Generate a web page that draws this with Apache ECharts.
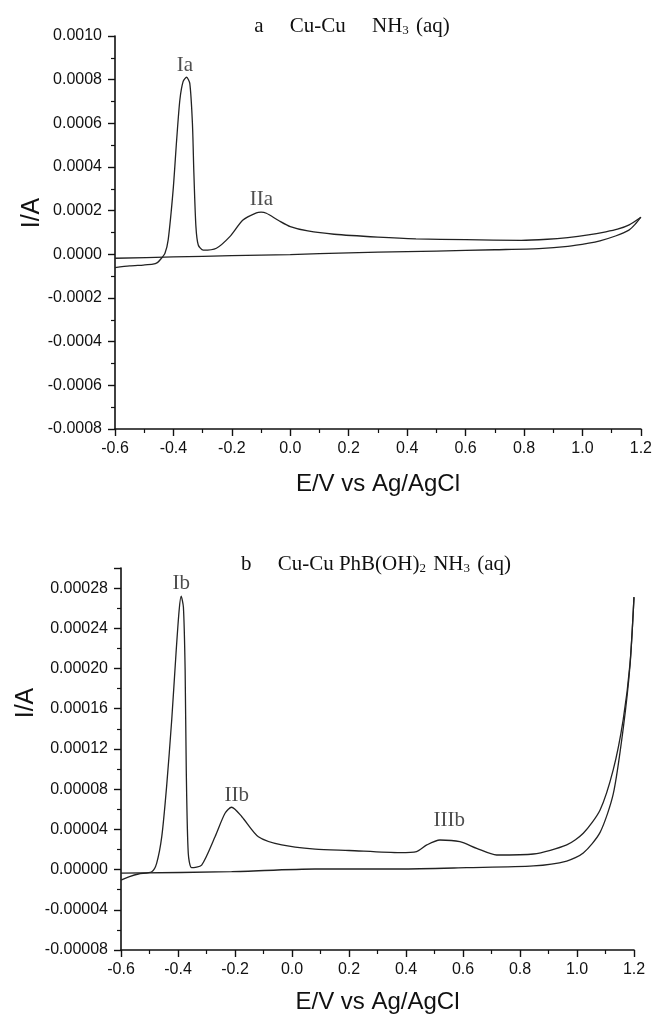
<!DOCTYPE html>
<html>
<head>
<meta charset="utf-8">
<script src="https://cdn.jsdelivr.net/npm/echarts@6/dist/echarts.min.js"></script>
<style>
  html, body { margin: 0; padding: 0; background: #fff; }
  #chart { width: 655px; height: 1015px; }
</style>
</head>
<body>
<div id="chart"></div>
<script>
// panel a : Cu-Cu NH3(aq), [E (V), I (A)]
var aForward = [
  [-0.6, -0.000061], [-0.55, -0.000053], [-0.503, -0.000049], [-0.47, -0.000045],
  [-0.455, -0.000038], [-0.446, -0.000026], [-0.429, 0.000005], [-0.418, 0.000066],
  [-0.401, 0.000295], [-0.389, 0.000524], [-0.378, 0.000707], [-0.367, 0.000791],
  [-0.355, 0.000811], [-0.344, 0.000783], [-0.335, 0.0006], [-0.33, 0.000371],
  [-0.323, 0.000127], [-0.315, 0.000043], [-0.298, 0.000019], [-0.253, 0.000028],
  [-0.207, 0.000081], [-0.162, 0.000157], [-0.116, 0.00019], [-0.1, 0.000193],
  [-0.082, 0.000188], [-0.04, 0.000155], [0.0, 0.000127], [0.06, 0.000107],
  [0.15, 0.000092], [0.3, 0.000079], [0.43, 0.000071], [0.6, 0.000067],
  [0.79, 0.000064], [0.88, 0.000069], [0.95, 0.000077], [1.02, 0.000089],
  [1.08, 0.000103], [1.12, 0.000115], [1.16, 0.000135], [1.2, 0.00017]
];
var aReverse = [
  [1.2, 0.00017], [1.18, 0.000137], [1.159, 0.000111], [1.113, 0.000084],
  [1.06, 0.000062], [1.022, 0.000051], [0.95, 0.000036], [0.851, 0.000026],
  [0.7, 0.000021], [0.5, 0.000015], [0.3, 0.00001], [0.1, 0.000003],
  [0.0, -0.000001], [-0.2, -0.000006], [-0.4, -0.000012], [-0.6, -0.000018]
];
var aPeakNames = ['Ia', 'IIa'];
var aPeakPos = [[-0.361, 0.000867], [-0.099, 0.000249]];

// panel b : Cu-Cu PhB(OH)2 NH3(aq)
var bForward = [
  [-0.6, -0.0000104], [-0.57, -0.000007], [-0.539, -0.0000044], [-0.492, -0.0000021],
  [-0.475, 0.0000062], [-0.457, 0.0000327], [-0.44, 0.0000825], [-0.422, 0.000149],
  [-0.407, 0.000215], [-0.396, 0.000258], [-0.389, 0.000272], [-0.381, 0.000261],
  [-0.375, 0.000199], [-0.371, 0.0000991], [-0.364, 0.0000162], [-0.352, 0.0000019],
  [-0.317, 0.0000045], [-0.27, 0.0000327], [-0.235, 0.000056], [-0.212, 0.000062],
  [-0.176, 0.0000526], [-0.118, 0.0000327], [-0.036, 0.0000245], [0.081, 0.0000204],
  [0.2, 0.000019], [0.379, 0.0000168], [0.437, 0.0000178], [0.473, 0.0000245],
  [0.519, 0.0000294], [0.589, 0.0000278], [0.648, 0.0000211], [0.718, 0.0000145],
  [0.847, 0.0000155], [0.964, 0.0000245], [1.022, 0.0000361], [1.081, 0.0000593],
  [1.127, 0.0000991], [1.162, 0.000149], [1.186, 0.000205], [1.2, 0.000271]
];
var bReverse = [
  [1.2, 0.000271], [1.186, 0.000203], [1.162, 0.00014], [1.127, 0.000075],
  [1.081, 0.000037], [1.022, 0.0000165], [0.964, 0.0000085], [0.847, 0.0000036],
  [0.613, 0.0000019], [0.379, 0.0000006], [0.081, 0.0000006], [-0.212, -0.0000021],
  [-0.6, -0.0000036]
];
var bPeakNames = ['Ib', 'IIb', 'IIIb'];
var bPeakPos = [[-0.389, 0.000285], [-0.194, 0.0000742], [0.552, 0.0000486]];

var sans = 'Liberation Sans, Arial, sans-serif';
var serif = 'Liberation Serif, Times New Roman, serif';

function xAxisOf(gridIndex) {
  return {
    type: 'value', gridIndex: gridIndex,
    min: -0.6, max: 1.2, interval: 0.2,
    name: 'E/V vs Ag/AgCl', nameLocation: 'middle', nameGap: gridIndex ? 40 : 43,
    nameMoveOverlap: false,
    nameTextStyle: { fontFamily: sans, fontSize: 24, color: '#111' },
    axisLine: { onZero: false, lineStyle: { color: '#111', width: 1.6 } },
    axisTick: { length: 7, lineStyle: { color: '#111', width: 1.4 } },
    minorTick: { show: true, splitNumber: 2, length: 4, lineStyle: { color: '#111', width: 1.2 } },
    axisLabel: {
      margin: 12, fontFamily: sans, fontSize: 16, color: '#111',
      formatter: function (v) { return v.toFixed(1); }
    },
    splitLine: { show: false }
  };
}

function yAxisOf(gridIndex, min, max, step, digits, gap, shift) {
  return {
    type: 'value', gridIndex: gridIndex,
    min: min, max: max, interval: step,
    name: 'I/A', nameLocation: 'middle', nameGap: gap, nameMoveOverlap: false,
    nameTextStyle: { fontFamily: sans, fontSize: 25, color: '#111', padding: [0, 0, 0, shift] },
    axisLine: { onZero: false, lineStyle: { color: '#111', width: 1.6 } },
    axisTick: { length: 7, lineStyle: { color: '#111', width: 1.4 } },
    minorTick: { show: true, splitNumber: 2, length: 4, lineStyle: { color: '#111', width: 1.2 } },
    axisLabel: {
      margin: 13, fontFamily: sans, fontSize: 16, color: '#111', showMaxLabel: gridIndex === 0,
      formatter: function (v) { return v.toFixed(digits); }
    },
    splitLine: { show: false }
  };
}

function curve(data, idx) {
  return {
    type: 'line', xAxisIndex: idx, yAxisIndex: idx, data: data,
    showSymbol: false, smooth: 0.25,
    lineStyle: { color: '#222', width: 1.3 }, silent: true, animation: false
  };
}

function peaks(names, pos, idx) {
  return {
    type: 'scatter', xAxisIndex: idx, yAxisIndex: idx, symbolSize: 0, silent: true,
    data: names.map(function (n, i) { return { name: n, value: pos[i] }; }),
    label: {
      show: true, position: 'inside', formatter: '{b}',
      fontFamily: serif, fontSize: 21, color: '#222'
    },
    animation: false
  };
}

var titleRich = {
  t: { fontFamily: serif, fontSize: 21, fontWeight: 'normal', color: '#111', lineHeight: 26, verticalAlign: 'bottom' },
  s: { fontFamily: serif, fontSize: 13, fontWeight: 'normal', color: '#111', lineHeight: 26, verticalAlign: 'bottom', padding: [0, 2, 0, 0] }
};

var chart = echarts.init(document.getElementById('chart'));
chart.setOption({
  backgroundColor: '#fff',
  animation: false,
  title: [
    {
      text: '{t|a     Cu-Cu     NH}{s|3}{t| (aq)}',
      left: 347, top: 6, textAlign: 'center',
      textStyle: { fontWeight: 'normal', rich: titleRich }
    },
    {
      text: '{t|b     Cu-Cu PhB(OH)}{s|2}{t| NH}{s|3}{t| (aq)}',
      left: 371, top: 544, textAlign: 'center',
      textStyle: { fontWeight: 'normal', rich: titleRich }
    }
  ],
  grid: [
    { left: 115, right: 13, top: 36, bottom: 586 },
    { left: 121, right: 21, top: 568, bottom: 65 }
  ],
  xAxis: [xAxisOf(0), xAxisOf(1)],
  yAxis: [
    yAxisOf(0, -0.0008, 0.001, 0.0002, 4, 70, 39),
    yAxisOf(1, -0.00008, 0.0003, 0.00004, 5, 82, 112)
  ],
  series: [
    curve(aForward, 0), curve(aReverse, 0), peaks(aPeakNames, aPeakPos, 0),
    curve(bForward, 1), curve(bReverse, 1), peaks(bPeakNames, bPeakPos, 1)
  ]
});
</script>
</body>
</html>
